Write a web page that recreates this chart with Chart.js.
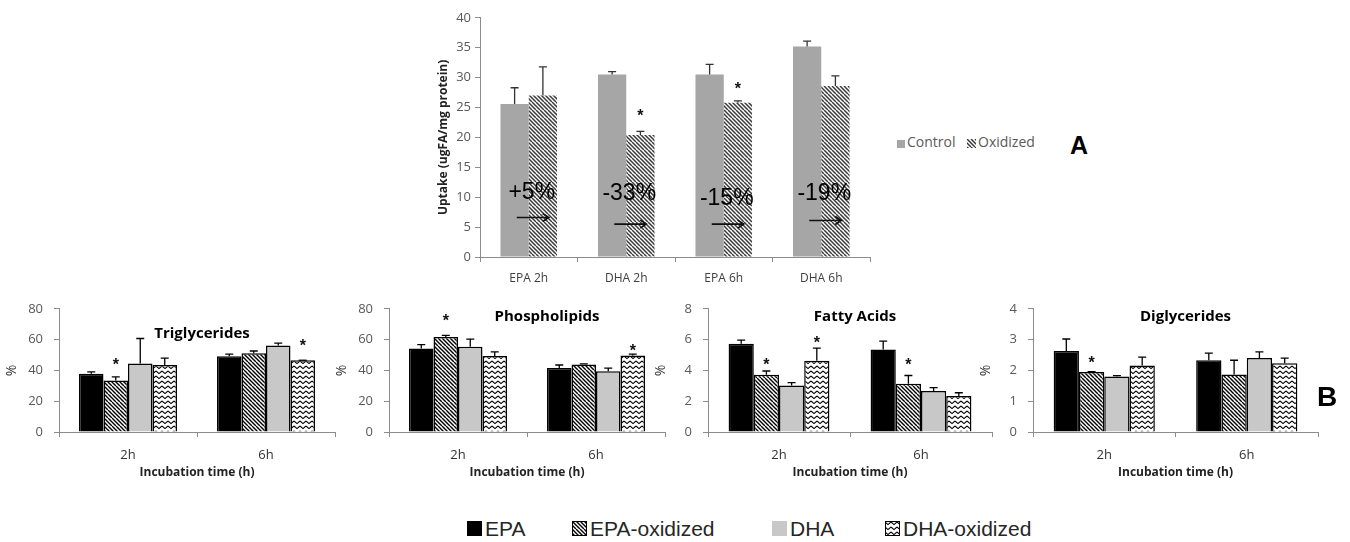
<!DOCTYPE html>
<html>
<head>
<meta charset="utf-8">
<script src="https://cdn.jsdelivr.net/npm/chart.js@4.4.0/dist/chart.umd.min.js"></script>
<style>
  body { margin: 0; background: #fff; width: 1350px; height: 542px; position: relative; overflow: hidden; font-family: "Open Sans", sans-serif; }
  .box { position: absolute; }
  .txt { position: absolute; white-space: nowrap; }
  .sw { position: absolute; box-sizing: border-box; }
</style>
</head>
<body>
<div class="box" style="left:432px;top:6px;width:448px;height:289px"><canvas id="chartA"></canvas></div>
<div class="box" style="left:0px;top:290px;width:345px;height:194px"><canvas id="chartTg"></canvas></div>
<div class="box" style="left:330px;top:290px;width:345px;height:194px"><canvas id="chartPl"></canvas></div>
<div class="box" style="left:649px;top:290px;width:353px;height:194px"><canvas id="chartFa"></canvas></div>
<div class="box" style="left:974px;top:290px;width:354px;height:194px"><canvas id="chartDg"></canvas></div>

<div id="legendA"></div>
<div id="legendB"></div>
<div class="txt" style="left:1070px;top:131px;font:bold 25px 'Liberation Sans',Arial,sans-serif;color:#000">A</div>
<div class="txt" style="left:1317px;top:381px;font:bold 28px 'Liberation Sans',Arial,sans-serif;color:#000">B</div>

<script>
// --- Panel A: uptake ---
const groupsA = ['EPA 2h', 'DHA 2h', 'EPA 6h', 'DHA 6h'];
const controlA = [25.6, 30.5, 30.5, 35.2];
const controlErrA = [28.3, 31.0, 32.2, 36.1];
const oxidizedA = [27.0, 20.4, 25.8, 28.6];
const oxidizedErrA = [31.8, 21.0, 26.1, 30.3];
const oxidizedStarA = [null, 24.0, 28.6, null];
const changeA = ['+5%', '-33%', '-15%', '-19%'];
const changeLabelAt = [10.8, 10.6, 9.8, 10.6];
const changeArrowAt = [6.6, 5.5, 5.5, 6.1];

// --- Panel B: lipid classes (series order: EPA, EPA-oxidized, DHA, DHA-oxidized) ---
const times = ['2h', '6h'];
const seriesB = ['EPA', 'EPA-oxidized', 'DHA', 'DHA-oxidized'];

const tgValues = [[37.9, 49.2], [33.4, 51.2], [44.5, 56.1], [43.5, 46.6]];
const tgErr    = [[39.1, 50.6], [35.8, 52.6], [60.7, 57.7], [48.0, 46.6]];
const tgStars  = [[null, null], [45.5, null], [null, null], [null, 57.7]];

const plValues = [[54.3, 41.5], [61.7, 43.9], [55.3, 39.5], [49.4, 49.6]];
const plErr    = [[56.7, 43.5], [62.8, 44.3], [60.3, 41.5], [52.0, 50.6]];
const plStars  = [[null, null], [74.3, null], [null, null], [null, 54.7]];

const faValues = [[5.73, 5.35], [3.71, 3.14], [3.02, 2.67], [4.63, 2.33]];
const faErr    = [[5.96, 5.90], [3.96, 3.67], [3.20, 2.88], [5.45, 2.55]];
const faStars  = [[null, null], [4.53, 4.53], [null, null], [6.0, null]];

const dgValues = [[2.63, 2.33], [1.95, 1.87], [1.80, 2.40], [2.16, 2.23]];
const dgErr    = [[3.02, 2.56], [1.96, 2.33], [1.83, 2.60], [2.43, 2.40]];
const dgStars  = [[null, null], [2.33, null], [null, null], [null, null]];

// --- patterns ---
function hatch(lineColor, lw) {
    const c = document.createElement('canvas');
    c.width = 8; c.height = 8;
    const g = c.getContext('2d');
    g.fillStyle = '#fff';
    g.fillRect(0, 0, 8, 8);
    g.strokeStyle = lineColor;
    g.lineWidth = lw;
    g.beginPath();
    for (let k = -8; k <= 8; k += 4) {
        g.moveTo(k, 0);
        g.lineTo(k + 8, 8);
    }
    g.stroke();
    return g.createPattern(c, 'repeat');
}

function zigzag() {
    const c = document.createElement('canvas');
    c.width = 6; c.height = 5;
    const g = c.getContext('2d');
    g.fillStyle = '#fff';
    g.fillRect(0, 0, 6, 5);
    g.strokeStyle = '#000';
    g.lineWidth = 1.1;
    g.beginPath();
    g.moveTo(0, 1);
    g.lineTo(3, 3.6);
    g.lineTo(6, 1);
    g.stroke();
    return g.createPattern(c, 'repeat');
}

const fillsB = ['#000000', hatch('#000', 1.4), '#c8c8c8', zigzag()];
const controlFill = '#a6a6a6';
const oxidizedFill = hatch('#3a3a3a', 1.5);

Chart.defaults.font.family = '"Open Sans", sans-serif';
Chart.defaults.animation = false;

// --- plugins ---
const errorBars = {
    id: 'errorBars',
    afterDatasetsDraw(chart, args, opts) {
        const ctx = chart.ctx;
        const y = chart.scales.y;
        chart.data.datasets.forEach((ds, di) => {
            if (!ds.errTop) return;
            chart.getDatasetMeta(di).data.forEach((bar, i) => {
                const top = ds.errTop[i];
                if (top == null) return;
                const yp = y.getPixelForValue(top);
                ctx.save();
                ctx.strokeStyle = opts.color || '#000';
                ctx.lineWidth = opts.width || 1.3;
                ctx.beginPath();
                ctx.moveTo(bar.x, bar.y);
                ctx.lineTo(bar.x, yp);
                ctx.moveTo(bar.x - opts.cap / 2, yp);
                ctx.lineTo(bar.x + opts.cap / 2, yp);
                ctx.stroke();
                ctx.restore();
            });
        });
    }
};

const starMarks = {
    id: 'starMarks',
    afterDatasetsDraw(chart) {
        const ctx = chart.ctx;
        const y = chart.scales.y;
        chart.data.datasets.forEach((ds, di) => {
            if (!ds.stars) return;
            chart.getDatasetMeta(di).data.forEach((bar, i) => {
                const v = ds.stars[i];
                if (v == null) return;
                ctx.save();
                ctx.font = 'bold 16px "Liberation Sans", Arial, sans-serif';
                ctx.fillStyle = '#111';
                ctx.textAlign = 'center';
                ctx.textBaseline = 'alphabetic';
                ctx.fillText('*', bar.x, y.getPixelForValue(v) + 8);
                ctx.restore();
            });
        });
    }
};

const panelTitle = {
    id: 'panelTitle',
    afterDraw(chart, args, opts) {
        if (!opts.text) return;
        const a = chart.chartArea;
        const ctx = chart.ctx;
        ctx.save();
        ctx.font = 'bold 15px "Open Sans", sans-serif';
        ctx.fillStyle = '#000';
        ctx.textAlign = 'center';
        ctx.textBaseline = 'middle';
        ctx.fillText(opts.text, (a.left + a.right) / 2 + opts.dx, a.top + opts.dy);
        ctx.restore();
    }
};

const changeNotes = {
    id: 'changeNotes',
    afterDatasetsDraw(chart, args, opts) {
        if (!opts.labels) return;
        const ctx = chart.ctx;
        const x = chart.scales.x, y = chart.scales.y;
        ctx.save();
        opts.labels.forEach((txt, i) => {
            const cx = x.getPixelForValue(i);
            ctx.font = '23px "Liberation Sans", Arial, sans-serif';
            ctx.fillStyle = '#000';
            ctx.textAlign = 'center';
            ctx.textBaseline = 'middle';
            ctx.fillText(txt, cx + 3, y.getPixelForValue(opts.labelAt[i]));
            const ay = y.getPixelForValue(opts.arrowAt[i]);
            ctx.strokeStyle = '#111';
            ctx.lineWidth = 1.6;
            ctx.beginPath();
            ctx.moveTo(cx - 12, ay);
            ctx.lineTo(cx + 20, ay);
            ctx.moveTo(cx + 14, ay - 4);
            ctx.lineTo(cx + 20, ay);
            ctx.lineTo(cx + 14, ay + 4);
            ctx.stroke();
        });
        ctx.restore();
    }
};

// --- Panel A chart ---
new Chart(document.getElementById('chartA'), {
    type: 'bar',
    data: {
        labels: groupsA,
        datasets: [
            { label: 'Control', data: controlA, errTop: controlErrA, backgroundColor: controlFill, borderWidth: 0 },
            { label: 'Oxidized', data: oxidizedA, errTop: oxidizedErrA, stars: oxidizedStarA, backgroundColor: oxidizedFill, borderWidth: 0 }
        ]
    },
    options: {
        responsive: true,
        maintainAspectRatio: false,
        categoryPercentage: 0.58,
        barPercentage: 1.0,
        layout: { padding: { top: 10, right: 10, left: 0, bottom: 0 } },
        plugins: {
            legend: { display: false },
            tooltip: { enabled: false },
            errorBars: { cap: 8, color: '#333', width: 1.3 },
            changeNotes: { labels: changeA, labelAt: changeLabelAt, arrowAt: changeArrowAt }
        },
        scales: {
            x: {
                grid: { drawOnChartArea: false, tickLength: 5, color: '#8c8c8c' },
                border: { color: '#8c8c8c' },
                ticks: { color: '#404040', font: { size: 12 }, padding: 9 },
                afterFit(s) { s.height = 38; }
            },
            y: {
                min: 0,
                max: 40,
                ticks: { stepSize: 5, color: '#595959', font: { size: 13 }, padding: 4 },
                grid: { drawOnChartArea: false, tickLength: 5, color: '#8c8c8c' },
                border: { color: '#8c8c8c' },
                title: { display: true, text: 'Uptake (ugFA/mg protein)', color: '#222', font: { size: 12, weight: 'bold' } },
                afterFit(s) { s.width = 48; }
            }
        }
    },
    plugins: [errorBars, starMarks, changeNotes]
});

// --- Panel B charts ---
function makePanel(canvasId, title, values, errs, stars, yMax, step, titleDx, titleDy) {
    const datasets = seriesB.map((name, s) => ({
        label: name,
        data: values[s],
        errTop: errs[s],
        stars: stars[s],
        backgroundColor: fillsB[s],
        borderColor: '#000',
        borderWidth: 1.5
    }));
    return new Chart(document.getElementById(canvasId), {
        type: 'bar',
        data: { labels: times, datasets: datasets },
        options: {
            responsive: true,
            maintainAspectRatio: false,
            categoryPercentage: 0.71,
            barPercentage: 1.0,
            layout: { padding: { top: 10, right: 10, left: 0, bottom: 0 } },
            plugins: {
                legend: { display: false },
                tooltip: { enabled: false },
                errorBars: { cap: 8, color: '#000', width: 1.3 },
                panelTitle: { text: title, dx: titleDx, dy: titleDy }
            },
            scales: {
                x: {
                    grid: { drawOnChartArea: false, tickLength: 5, color: '#8c8c8c' },
                    border: { color: '#8c8c8c' },
                    ticks: { color: '#333', font: { size: 13 }, padding: 10 },
                    title: { display: true, text: 'Incubation time (h)', color: '#222', font: { size: 12, weight: 'bold' } },
                    afterFit(s) { s.height = 52; }
                },
                y: {
                    min: 0,
                    max: yMax,
                    ticks: { stepSize: step, color: '#595959', font: { size: 13 }, padding: 11 },
                    grid: { drawOnChartArea: false, tickLength: 5, color: '#8c8c8c' },
                    border: { color: '#8c8c8c' },
                    title: { display: true, text: '%', color: '#333', font: { size: 14 } },
                    afterFit(s) { s.width = 59; }
                }
            }
        },
        plugins: [errorBars, starMarks, panelTitle]
    });
}

makePanel('chartTg', 'Triglycerides', tgValues, tgErr, tgStars, 80, 20, 5, 25);
makePanel('chartPl', 'Phospholipids', plValues, plErr, plStars, 80, 20, 20, 8);
makePanel('chartFa', 'Fatty Acids', faValues, faErr, faStars, 8, 2, 5, 8);
makePanel('chartDg', 'Diglycerides', dgValues, dgErr, dgStars, 4, 1, 10, 8);

// --- legends (HTML) ---
function swatch(fill, w, h, border) {
    const c = document.createElement('canvas');
    c.width = w; c.height = h;
    c.className = 'sw';
    const g = c.getContext('2d');
    g.fillStyle = fill;
    g.fillRect(0, 0, w, h);
    if (border) {
        g.strokeStyle = border;
        g.lineWidth = 1;
        g.strokeRect(0.5, 0.5, w - 1, h - 1);
    }
    return c;
}

function addItem(parent, fill, border, size, sx, sy, text, tx, ty, font, color) {
    const sw = swatch(fill, size, size, border);
    sw.style.left = sx + 'px';
    sw.style.top = sy + 'px';
    parent.appendChild(sw);
    const t = document.createElement('div');
    t.className = 'txt';
    t.textContent = text;
    t.style.left = tx + 'px';
    t.style.top = ty + 'px';
    t.style.font = font;
    t.style.lineHeight = '1';
    t.style.color = color;
    parent.appendChild(t);
}

const legA = document.getElementById('legendA');
const fontA = '14px "Open Sans", sans-serif';
addItem(legA, controlFill, null, 8, 897, 140, 'Control', 907, 135, fontA, '#595959');
addItem(legA, oxidizedFill, null, 9, 967, 139, 'Oxidized', 978, 135, fontA, '#595959');

const legB = document.getElementById('legendB');
const fontB = '21px "Liberation Sans", Arial, sans-serif';
const legendX = [467, 572, 772, 885];
seriesB.forEach((name, s) => {
    const border = s === 0 || s === 2 ? null : '#000';
    addItem(legB, fillsB[s], border, 15, legendX[s], 521, name, legendX[s] + 18, 518, fontB, '#262626');
});
</script>
</body>
</html>
